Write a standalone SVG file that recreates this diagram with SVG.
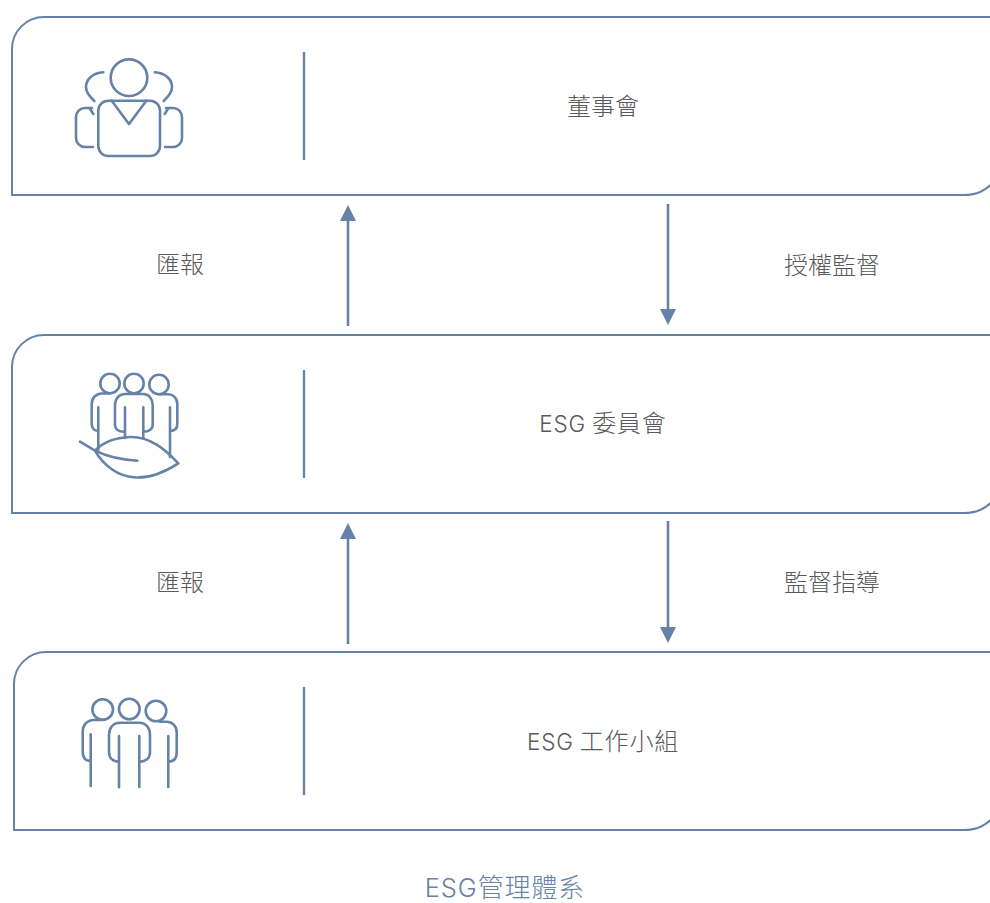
<svg xmlns="http://www.w3.org/2000/svg" width="990" height="903" viewBox="0 0 990 903">
<style>
.p{fill:none;stroke:#6682a8;stroke-width:2}
.d{fill:none;stroke:#6682a8;stroke-width:2.4}
.i{fill:none;stroke:#6682a8;stroke-width:2.6;stroke-linecap:round;stroke-linejoin:round}
.a{fill:none;stroke:#6682a8;stroke-width:2.6}
.h{fill:#6682a8}
text{font-family:"Noto Sans CJK TC","Noto Sans CJK SC",sans-serif;font-weight:300;font-size:24px;fill:#5a5a5a;text-anchor:middle}
.m{letter-spacing:.8px}
.l{font-family:Inter,"Liberation Sans",sans-serif;font-size:22.5px}
.t{fill:#6682a8;font-size:26px;letter-spacing:.9px}
.tl{font-family:Inter,"Liberation Sans",sans-serif;font-size:25.5px}
</style>
<rect width="990" height="903" fill="#ffffff"/>
<g id="node-board">
<path class="p" d="M1020 17H44A32 32 0 0 0 12 49V195H964C978 195 985 190 992 184"/>
<line class="d" x1="304" y1="52" x2="304" y2="160"/>
<g class="i">
<circle cx="129" cy="77.7" r="18.3"/>
<rect x="98.3" y="100.7" width="61.7" height="55.3" rx="10"/>
<path d="M111.7 100.7L129 124L146.3 100.7"/>
<path d="M103.3 72.3C92 73 86 80 86 87C86 93 90 97 94.3 101"/>
<path d="M154.7 72.3C166 73 172 80 172 87C172 93 168 97 163.7 101"/>
<path d="M89.5 108L93.3 114M92 108H85C80 108 76 112 76 117V138C76 143 80 147 85 147H93"/>
<path d="M168.500 108L164.700 114M166 108H173C178 108 182 112 182 117V138C182 143 178 147 173 147H165"/>
</g>
<text x="603" y="115">董事會</text>
</g>
<g id="node-esg-committee">
<path class="p" d="M1020 335H44A32 32 0 0 0 12 367V513H964C978 513 985 508 992 502"/>
<line class="d" x1="304" y1="370" x2="304" y2="478"/>
<g class="i">
<circle cx="110" cy="383.500" r="9.700"/>
<circle cx="134" cy="383.500" r="9.700"/>
<circle cx="159" cy="384.500" r="9.700"/>
<path d="M110 393.500H102C96 393.500 91.700 398 91.700 404V424C91.700 428 94 431 98.300 431M98.300 407.300V450"/>
<path d="M125 394H143C149 394 152.700 399 152.700 405V425C152.700 429 149 431.700 143.300 431.700M125 394C119 394 115 399 115 405V425C115 429 118 431.700 123.300 431.700M125 407.300V438M143.300 407.300V438"/>
<path d="M159 394.300H168C173 394.300 177.300 398 177.300 404V424C177.300 428 175 431 170 431M170 407.300V457"/>
<path d="M95 450.700C105 440 118 437.500 130 437C150 436.500 165 449 178.300 463.300C165 472 150 478 136 477.500C118 477 103 465 95 450.700Z"/>
<path d="M80 441.700L95 450.700C110 458 122 460 137.300 460.700"/>
</g>
<text class="m" x="603" y="432"><tspan class="l">ESG</tspan> 委員會</text>
</g>
<g id="node-esg-workgroup">
<path class="p" d="M1020 652H46A32 32 0 0 0 14 684V830H964C978 830 985 825 992 819"/>
<line class="d" x1="304" y1="687" x2="304" y2="795"/>
<g class="i">
<circle cx="102.700" cy="709.500" r="10.300"/>
<circle cx="129.300" cy="709" r="10.300"/>
<circle cx="156" cy="711" r="10.300"/>
<path d="M102.700 720H94C87 720 82.700 725 82.700 732V751C82.700 757 85 761 90.700 761M90.700 734.300V786"/>
<path d="M120 722.700H139.300C146 722.700 150 728 150 735V752C150 758 146 761.700 139.300 761.700M120 722.700C113 722.700 109 728 109 735V752C109 758 113 761.700 119 761.700M119 736V787.300M139.300 736V787"/>
<path d="M160 721.700H166.700C172 721.700 176.700 726 176.700 732V752C176.700 758 174 761.700 168.300 761.700M168.300 736V787"/>
</g>
<text class="m" x="603" y="750"><tspan class="l">ESG</tspan> 工作小組</text>
</g>
<g id="connectors">
<line class="a" x1="348" y1="326" x2="348" y2="219"/>
<polygon class="h" points="348,205 356,221 340,221"/>
<line class="a" x1="668" y1="204" x2="668" y2="311"/>
<polygon class="h" points="668,325 660,309 676,309"/>
<line class="a" x1="348" y1="644" x2="348" y2="537"/>
<polygon class="h" points="348,523 356,539 340,539"/>
<line class="a" x1="668" y1="521" x2="668" y2="629"/>
<polygon class="h" points="668,643 660,627 676,627"/>
</g>
<g id="labels">
<text x="180" y="273">匯報</text>
<text x="832" y="274">授權監督</text>
<text x="180" y="591">匯報</text>
<text x="832" y="591">監督指導</text>
<text class="t" x="505" y="897"><tspan class="tl">ESG</tspan>管理體系</text>
</g>
</svg>
